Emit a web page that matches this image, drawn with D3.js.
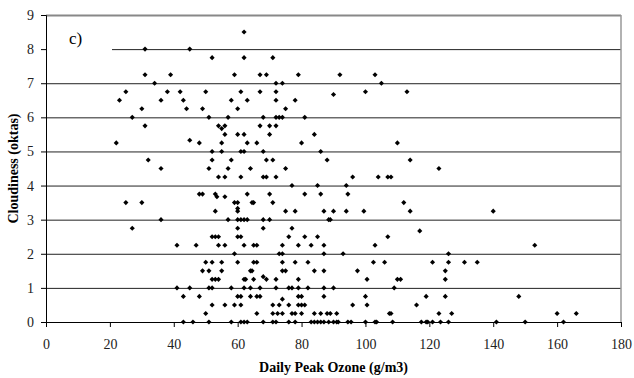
<!DOCTYPE html>
<html>
<head>
<meta charset="utf-8">
<script src="https://cdn.jsdelivr.net/npm/d3@7/dist/d3.min.js"></script>
<style>
  body { margin: 0; background: #fff; }
  svg { display: block; }
</style>
</head>
<body>
<div id="chart"></div>
<script>
// cloudiness levels (oktas) and the daily peak ozone of each day at that level
const cloudLevels = [8.5, 8, 7.75, 7.25, 7, 6.75, 6.67, 6.5, 6.25, 6, 5.75, 5.67, 5.5, 5.33, 5.25, 5,
  4.75, 4.5, 4.25, 4, 3.75, 3.67, 3.5, 3.33, 3.25, 3, 2.75, 2.67, 2.5, 2.25, 2, 1.75, 1.5, 1.33,
  1.25, 1, 0.75, 0.67, 0.5, 0.25, 0];
const ozoneAtLevel = [
  [62],
  [31, 45],
  [52, 62, 71],
  [31, 39, 59, 67, 69, 79, 92, 103],
  [34, 72, 74, 105],
  [25, 38, 42, 50, 61, 67, 72, 100, 113],
  [90],
  [23, 36, 43, 58, 63, 72, 78],
  [30, 44, 49, 60, 75],
  [27, 51, 57, 68, 72, 73, 74, 81],
  [31, 54, 56, 67, 70, 72],
  [55],
  [56, 60, 62, 70, 84],
  [45],
  [22, 48, 55, 63, 66, 80, 110],
  [52, 55, 61, 62, 68, 86],
  [32, 52, 58, 69, 71, 88, 114],
  [36, 51, 57, 64, 75, 123],
  [54, 56, 61, 68, 69, 72, 96, 104, 107, 108],
  [77, 85, 94],
  [48, 49, 53, 63, 70, 81, 86, 94.5],
  [53.5, 56],
  [25, 30, 59, 60, 64.5, 65, 71, 112],
  [60],
  [53, 60, 75, 78, 87, 90, 94, 99.5, 114, 140],
  [36, 57, 60, 61, 62, 63, 68, 70, 88.5, 89],
  [27, 60, 68, 77],
  [117],
  [52, 53, 54, 60, 61, 76, 81, 85, 107],
  [41, 47, 54, 56, 62, 65, 66, 74, 79, 83, 87, 103, 153],
  [59, 73, 74, 87, 93, 126],
  [50, 52, 55, 60, 65, 66, 74, 78, 82, 102.5, 106, 121, 126, 131, 135],
  [49, 51, 55, 64, 64.5, 74, 75, 84, 87, 97.5, 125],
  [68],
  [52, 53, 54, 62, 62.5, 65, 69, 72, 79, 100.5, 110, 111, 125],
  [41, 45, 51, 52, 58, 62, 64, 67, 72, 76, 77, 79, 82, 87, 90, 109],
  [43, 48, 60, 61, 64, 66, 67, 79, 80, 87, 100, 119, 125, 148],
  [74],
  [52, 56, 59, 61, 71, 73, 76, 79, 80, 81, 96, 100.5, 116],
  [50, 66, 71, 72.5, 74, 77, 78, 80, 84, 86, 88, 89, 91, 107.5, 108, 123, 127, 160, 166],
  [43, 46, 51, 58, 61, 62, 63, 68, 71, 72, 76, 78, 83, 84, 85, 86, 87, 88.5, 90, 91, 91.5,
   94.5, 95.5, 100, 103, 103.5, 108.5, 117.5, 119, 119.5, 121, 123.5, 126, 141, 150, 162]
];
const xTicks = [0, 20, 40, 60, 80, 100, 120, 140, 160, 180];
const yTicks = [0, 1, 2, 3, 4, 5, 6, 7, 8, 9];

const width = 634, height = 378;
const margin = {left: 46, top: 15, right: 13, bottom: 56};
const plotW = width - margin.left - margin.right;
const plotH = height - margin.top - margin.bottom;
const serif = "Liberation Serif, Times New Roman, serif";

let points = [];
cloudLevels.forEach((c, i) => {
  ozoneAtLevel[i].forEach(o => points.push({ozone: o, cloud: c}));
});

const svg = d3.select("#chart").append("svg").attr("width", width).attr("height", height);
const g = svg.append("g").attr("transform", `translate(${margin.left}, ${margin.top})`);

const x = d3.scaleLinear().domain([0, 180]).range([0, plotW]);
const y = d3.scaleLinear().domain([0, 9]).range([plotH, 0]);

// gridlines
const grid = g.append("g").call(d3.axisLeft(y).tickValues(yTicks).tickSize(-plotW).tickFormat(""));
grid.select(".domain").remove();
grid.selectAll("line").attr("stroke", "#222").attr("stroke-width", 1);
grid.selectAll(".tick").filter(d => d === 9).select("line").attr("stroke", "#888").attr("stroke-width", 2);

// right border
g.append("line").attr("x1", plotW).attr("x2", plotW).attr("y1", 0).attr("y2", plotH)
  .attr("stroke", "#999").attr("stroke-width", 1.5);

// label box "c)" hides the start of the 8 line
g.append("rect").attr("x", 1).attr("y", 10).attr("width", 65).attr("height", 42).attr("fill", "#fff");
g.append("text").text("c)").attr("x", 23).attr("y", 29)
  .attr("font-family", serif).attr("font-size", 17).attr("fill", "#000");

// axes
const xAxis = g.append("g").attr("transform", `translate(0, ${plotH})`)
  .call(d3.axisBottom(x).tickValues(xTicks).tickSize(5).tickPadding(3));
xAxis.selectAll("text").attr("y", 27).attr("dy", 0);
const yAxis = g.append("g").call(d3.axisLeft(y).tickValues(yTicks).tickSize(5).tickPadding(7));
[xAxis, yAxis].forEach(a => {
  a.attr("font-family", serif).attr("font-size", 14);
  a.selectAll("text").attr("fill", "#222");
  a.selectAll(".domain, line").attr("stroke", "#000");
});

// points
const diamond = d3.symbol().type(d3.symbolSquare).size(13);
g.append("g").selectAll("path").data(points).enter().append("path")
  .attr("d", diamond)
  .attr("transform", d => `translate(${x(d.ozone)}, ${y(d.cloud)}) rotate(45)`)
  .attr("fill", "#000");

// axis titles
svg.append("text").text("Daily Peak Ozone (g/m3)")
  .attr("x", margin.left + plotW / 2).attr("y", 372).attr("text-anchor", "middle")
  .attr("font-family", serif).attr("font-weight", "bold").attr("font-size", 14);
svg.append("text").text("Cloudiness (oktas)")
  .attr("transform", `translate(18, ${margin.top + plotH / 2}) rotate(-90)`).attr("text-anchor", "middle")
  .attr("font-family", serif).attr("font-weight", "bold").attr("font-size", 14);
</script>
</body>
</html>
